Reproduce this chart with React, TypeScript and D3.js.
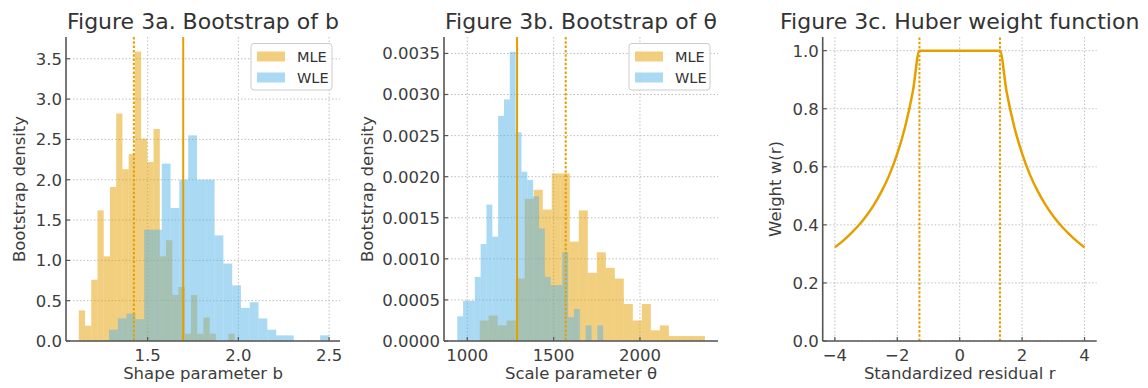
import React from "react";
import * as d3 from "d3";

// bootstrap histograms (density), 25 equal bins each, range = [first edge, last edge]
const bMleRange = [1.1206, 1.979];
const bMle = [0.38, 0.19, 0.76, 1.62, 1.05, 1.91, 2.82, 2.13, 2.32, 3.59, 2.51, 2.22, 2.63,
  1.05, 1.25, 0.57, 0.67, 0.09, 0.57, 0.09, 0.29, 0.09, 0, 0, 0.09];
const bWleRange = [1.287, 2.499];
const bWle = [0.14, 0.28, 0.34, 0.27, 1.38, 1.38, 2.2, 1.65, 2.0, 2.55, 2.0, 2.0, 1.31,
  0.96, 0.69, 0.41, 0.48, 0.28, 0.14, 0.07, 0.07, 0, 0, 0, 0.07];
const bLines = { dashed: 1.424, solid: 1.696 };

const thMleRange = [1072, 2376];
const thMle = [0.00025, 0.00031, 0.00019, 0.00025, 0.00076, 0.00173, 0.00184, 0.0016, 0.00204,
  0.00204, 0.00121, 0.00159, 0.00083, 0.00108, 0.00089, 0.00076, 0.00045, 0.00025, 0.00045,
  0.00013, 0.00019, 0.00006, 0.00006, 0.00006, 0.00006];
const thWleRange = [942, 1787];
const thWle = [0.0003, 0.00049, 0.00049, 0.00078, 0.00118, 0.00166, 0.00127, 0.00274, 0.00294,
  0.00352, 0.00254, 0.00206, 0.00196, 0.00176, 0.00137, 0.00078, 0.00068, 0.00068, 0.00108,
  0.00029, 0.00039, 0, 0.00019, 0, 0.00019];
const thLines = { dashed: 1570, solid: 1288 };

// Huber weight curve
const hubR = [-4, -3.75, -3.5, -3.25, -3, -2.75, -2.5, -2.25, -2, -1.75, -1.5, -1.29,
  1.29, 1.5, 1.75, 2, 2.25, 2.5, 2.75, 3, 3.25, 3.5, 3.75, 4];
const hubW = [0.3225, 0.344, 0.369, 0.397, 0.43, 0.469, 0.516, 0.573, 0.645, 0.737, 0.86, 1.0,
  1.0, 0.86, 0.737, 0.645, 0.573, 0.516, 0.469, 0.43, 0.397, 0.369, 0.344, 0.3225];
const hubCut = [-1.29, 1.29];

const ORANGE = "#E69F00";
const BLUE = "#56B4E9";
const FONT = "DejaVu Sans";
const TOP = 37, BOTTOM = 341, W = 274;

type Scale = d3.ScaleLinear<number, number>;

type PanelProps = {
  left: number; xDomain: number[]; yDomain: number[];
  xTicks: number[]; yTicks: number[]; xFmt: (v: number) => string; yFmt: (v: number) => string;
  title: string; xLabel: string; yLabel: string; yLabelOff: number;
  children: (x: Scale, y: Scale) => React.ReactNode;
};

function Panel(p: PanelProps) {
  const x = d3.scaleLinear().domain(p.xDomain).range([p.left, p.left + W]);
  const y = d3.scaleLinear().domain(p.yDomain).range([BOTTOM, TOP]);
  const grid = { stroke: "#b8b8b8", strokeWidth: 0.9, strokeDasharray: "1.5,2" };
  return (
    <g fontFamily={FONT}>
      {p.xTicks.map((t) => <line key={"gx" + t} x1={x(t)} x2={x(t)} y1={TOP} y2={BOTTOM} {...grid} />)}
      {p.yTicks.map((t) => <line key={"gy" + t} x1={p.left} x2={p.left + W} y1={y(t)} y2={y(t)} {...grid} />)}
      {p.children(x, y)}
      <line x1={p.left} x2={p.left} y1={TOP} y2={BOTTOM} stroke="#555" strokeWidth={1.6} />
      <line x1={p.left} x2={p.left + W} y1={BOTTOM} y2={BOTTOM} stroke="#555" strokeWidth={1.6} />
      {p.xTicks.map((t) => (
        <g key={"xt" + t}>
          <line x1={x(t)} x2={x(t)} y1={BOTTOM} y2={BOTTOM - 4} stroke="#555" strokeWidth={1.2} />
          <text x={x(t)} y={361} textAnchor="middle" fontSize={16.5} fill="#3d3d3d">{p.xFmt(t)}</text>
        </g>
      ))}
      {p.yTicks.map((t) => (
        <g key={"yt" + t}>
          <line x1={p.left} x2={p.left + 4} y1={y(t)} y2={y(t)} stroke="#555" strokeWidth={1.2} />
          <text x={p.left - 4} y={y(t)} dy="0.36em" textAnchor="end" fontSize={16.5} fill="#3d3d3d">{p.yFmt(t)}</text>
        </g>
      ))}
      <text x={p.left + W / 2} y={29} textAnchor="middle" fontSize={22} fill="#333">{p.title}</text>
      <text x={p.left + W / 2} y={379} textAnchor="middle" fontSize={16.5} fill="#3d3d3d">{p.xLabel}</text>
      <text transform={`translate(${p.left - p.yLabelOff},${(TOP + BOTTOM) / 2}) rotate(-90)`}
        textAnchor="middle" fontSize={16.5} fill="#3d3d3d">{p.yLabel}</text>
    </g>
  );
}

function Hist({ vals, range, color, x, y }: { vals: number[]; range: number[]; color: string; x: Scale; y: Scale }) {
  const step = (range[1] - range[0]) / vals.length;
  return (
    <g>
      {vals.map((v, i) => v > 0 && (
        <rect key={i} x={x(range[0] + i * step)} width={x(range[0] + (i + 1) * step) - x(range[0] + i * step)}
          y={y(v)} height={y(0) - y(v)} fill={color} fillOpacity={0.5} />
      ))}
    </g>
  );
}

function Legend({ right }: { right: number }) {
  const x0 = right - 89, y0 = 43.5;
  return (
    <g fontFamily={FONT}>
      <rect x={x0} y={y0} width={81} height={46.5} rx={3} fill="#fff" fillOpacity={0.8} stroke="#ccc" strokeWidth={1} />
      <rect x={x0 + 6} y={y0 + 8} width={28} height={10} fill={ORANGE} fillOpacity={0.5} />
      <rect x={x0 + 6} y={y0 + 29} width={28} height={10} fill={BLUE} fillOpacity={0.5} />
      <text x={x0 + 46} y={y0 + 18} fontSize={14.5} fill="#333">MLE</text>
      <text x={x0 + 46} y={y0 + 39} fontSize={14.5} fill="#333">WLE</text>
    </g>
  );
}

function VLines({ dashed, solid, x }: { dashed: number; solid: number; x: Scale }) {
  return (
    <g>
      <line x1={x(dashed)} x2={x(dashed)} y1={TOP} y2={BOTTOM} stroke={ORANGE} strokeWidth={2} strokeDasharray="2.5,1.8" />
      <line x1={x(solid)} x2={x(solid)} y1={TOP} y2={BOTTOM} stroke={ORANGE} strokeWidth={2} />
    </g>
  );
}

export default function App() {
  const f1 = d3.format(".1f");
  const f4 = d3.format(".4f");
  const fr = (v: number) => d3.format("d")(v).replace("-", "\u2212");
  return (
    <div style={{ position: "absolute", left: 0, top: 0 }}>
      <svg width={1148} height={388} style={{ display: "block", background: "#fff" }}>
        <Panel left={66} xDomain={[1.05, 2.56]} yDomain={[0, 3.77]} xTicks={[1.5, 2.0, 2.5]}
          yTicks={d3.range(0, 3.51, 0.5)} xFmt={f1} yFmt={f1} title="Figure 3a. Bootstrap of b"
          xLabel="Shape parameter b" yLabel="Bootstrap density" yLabelOff={41.5}>
          {(x, y) => (
            <g>
              <Hist vals={bMle} range={bMleRange} color={ORANGE} x={x} y={y} />
              <Hist vals={bWle} range={bWleRange} color={BLUE} x={x} y={y} />
              <VLines dashed={bLines.dashed} solid={bLines.solid} x={x} />
              <Legend right={66 + W} />
            </g>
          )}
        </Panel>
        <Panel left={444} xDomain={[865, 2452]} yDomain={[0, 0.0037]} xTicks={[1000, 1500, 2000]}
          yTicks={d3.range(0, 0.00351, 0.0005)} xFmt={d3.format("d")} yFmt={f4}
          title="Figure 3b. Bootstrap of θ" xLabel="Scale parameter θ" yLabel="Bootstrap density" yLabelOff={71.5}>
          {(x, y) => (
            <g>
              <Hist vals={thMle} range={thMleRange} color={ORANGE} x={x} y={y} />
              <Hist vals={thWle} range={thWleRange} color={BLUE} x={x} y={y} />
              <VLines dashed={thLines.dashed} solid={thLines.solid} x={x} />
              <Legend right={444 + W} />
            </g>
          )}
        </Panel>
        <Panel left={822.7} xDomain={[-4.39, 4.39]} yDomain={[0, 1.047]} xTicks={[-4, -2, 0, 2, 4]}
          yTicks={d3.range(0, 1.01, 0.2)} xFmt={fr} yFmt={f1}
          title="Figure 3c. Huber weight function" xLabel="Standardized residual r" yLabel="Weight w(r)" yLabelOff={42}>
          {(x, y) => {
            const line = d3.line<number>().x((r) => x(r)).y((_, i) => y(hubW[i])).curve(d3.curveMonotoneX);
            return (
              <g>
                {hubCut.map((c) => (
                  <line key={c} x1={x(c)} x2={x(c)} y1={y(0)} y2={TOP} stroke={ORANGE} strokeWidth={2} strokeDasharray="2.5,1.8" />
                ))}
                <path d={line(hubR) || ""} fill="none" stroke={ORANGE} strokeWidth={2.5} />
              </g>
            );
          }}
        </Panel>
      </svg>
    </div>
  );
}
